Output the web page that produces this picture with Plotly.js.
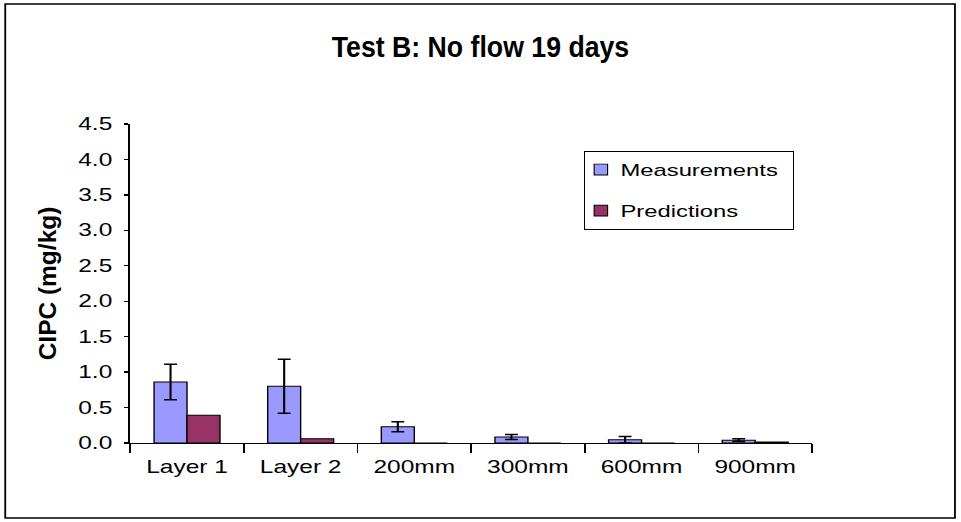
<!DOCTYPE html>
<html>
<head>
<meta charset="utf-8">
<script src="https://cdn.plot.ly/plotly-3.0.1.min.js"></script>
<style>
html,body{margin:0;padding:0;background:#fff;}
#wrap{width:961px;height:522px;overflow:hidden;position:relative;}
#chart{position:absolute;left:0;top:0;transform-origin:0 0;}
</style>
</head>
<body>
<div id="wrap"><div id="chart"></div></div>
<script>
const categories = ["Layer 1", "Layer 2", "200mm", "300mm", "600mm", "900mm"];
const measurements = [0.86, 0.80, 0.23, 0.085, 0.045, 0.04];
const measurementErrors = [0.25, 0.38, 0.07, 0.035, 0.045, 0.02];
const predictions = [0.39, 0.06, 0, 0, 0, 0.015];

// The reference picture is horizontally stretched; draw narrower and stretch.
const S = 1.4;
const W = 961 / S, H = 522;
const px = v => v / S;               // reference x-pixel -> inner px
const L = px(130), R = px(812), T = 124, B = 443;
const pw = R - L, ph = B - T;

const chart = document.getElementById("chart");
chart.style.width = W + "px";
chart.style.height = H + "px";
chart.style.transform = "scaleX(" + S + ")";

const traces = [
  {
    type: "bar", name: "Measurements", x: categories, y: measurements, legendgroup: "m",
    marker: {color: "#9999FF", line: {color: "#000", width: 1}},
    error_y: {type: "data", array: measurementErrors, visible: true, color: "#000", thickness: 1.5, width: 4.6}
  },
  {
    type: "bar", name: "Predictions", x: categories, y: predictions, legendgroup: "p",
    marker: {color: "#993366", line: {color: "#000", width: 1}}
  }
];

const layout = {
  width: W, height: H,
  margin: {l: L, r: W - R, t: T, b: H - B, pad: 0},
  paper_bgcolor: "#fff", plot_bgcolor: "#fff",
  font: {family: "Liberation Sans, Arial, sans-serif", color: "#000", size: 17.5},
  title: {text: "<b>Test B: No flow 19 days</b>", font: {size: 29}, x: 0.5, xref: "container", xanchor: "center",
          y: 1 - 47 / H, yanchor: "middle"},
  barmode: "group", bargap: 0.42, bargroupgap: 0,
  showlegend: true,
  legend: {x: (px(584) - L) / pw, y: (B - 151) / ph, xanchor: "left", yanchor: "top",
           traceorder: "grouped", tracegroupgap: 16, itemwidth: 30,
           bordercolor: "#000", borderwidth: 1, bgcolor: "#fff", font: {size: 17}},
  xaxis: {type: "category", showline: true, linecolor: "#000", linewidth: 1.3,
          ticks: "outside", tickson: "boundaries", ticklen: 9, tickcolor: "#000", tickwidth: 1.2,
          ticklabelstandoff: 8,
          showgrid: false, zeroline: false, tickfont: {size: 17.5}},
  yaxis: {range: [0, 4.5], dtick: 0.5, tickformat: ".1f", showline: true, linecolor: "#000", linewidth: 1.3,
          ticks: "outside", ticklen: 3, tickcolor: "#000", tickwidth: 1.3, showgrid: false, zeroline: false,
          ticklabelstandoff: 5,
          tickfont: {size: 17.5},
          title: {text: "<b>CIPC (mg/kg)</b>", font: {size: 24.5}, standoff: 8}},
  shapes: [{type: "rect", xref: "paper", yref: "paper",
            x0: (px(5) - L) / pw, x1: (px(955) - L) / pw, y0: (B - 518) / ph, y1: (B - 4) / ph,
            line: {color: "#000", width: 1.3}, fillcolor: "rgba(0,0,0,0)", layer: "below"}]
};

function squeeze(el, k) {
  if (!el) return;
  const x = parseFloat(el.getAttribute("x")) || 0;
  const prev = el.getAttribute("transform") || "";
  el.setAttribute("transform", "translate(" + x + ",0) scale(" + k + ",1) translate(" + (-x) + ",0) " + prev);
}

Plotly.newPlot(chart, traces, layout, {displayModeBar: false, staticPlot: true}).then(() => {
  // chart title in the reference is narrower than the stretched axis text
  squeeze(chart.querySelector(".gtitle"), 0.92 / S);
  // y-axis title is not stretched
  squeeze(chart.querySelector(".ytitle"), 1 / S);
  // tighter legend entries, as in the reference
  const shiftText = 15, shiftSym = 9, shrink = 10;
  chart.querySelectorAll(".legend .legendtext").forEach(t => {
    const x = parseFloat(t.getAttribute("x")) || 0;
    t.setAttribute("x", x - shiftText);
    t.querySelectorAll("tspan[x]").forEach(s => s.setAttribute("x", (parseFloat(s.getAttribute("x")) || 0) - shiftText));
  });
  chart.querySelectorAll(".legend .legendsymbols").forEach(g => {
    const prev = g.getAttribute("transform") || "";
    g.setAttribute("transform", "translate(" + (-shiftSym) + ",0) " + prev);
  });
  chart.querySelectorAll(".legend .legendsymbols path").forEach(p => {
    const prev = p.getAttribute("transform") || "";
    p.setAttribute("transform", prev + " scale(0.8,0.9)");
  });
  const bg = chart.querySelector(".legend rect.bg");
  if (bg) bg.setAttribute("width", parseFloat(bg.getAttribute("width")) - shrink);
});
</script>
</body>
</html>
